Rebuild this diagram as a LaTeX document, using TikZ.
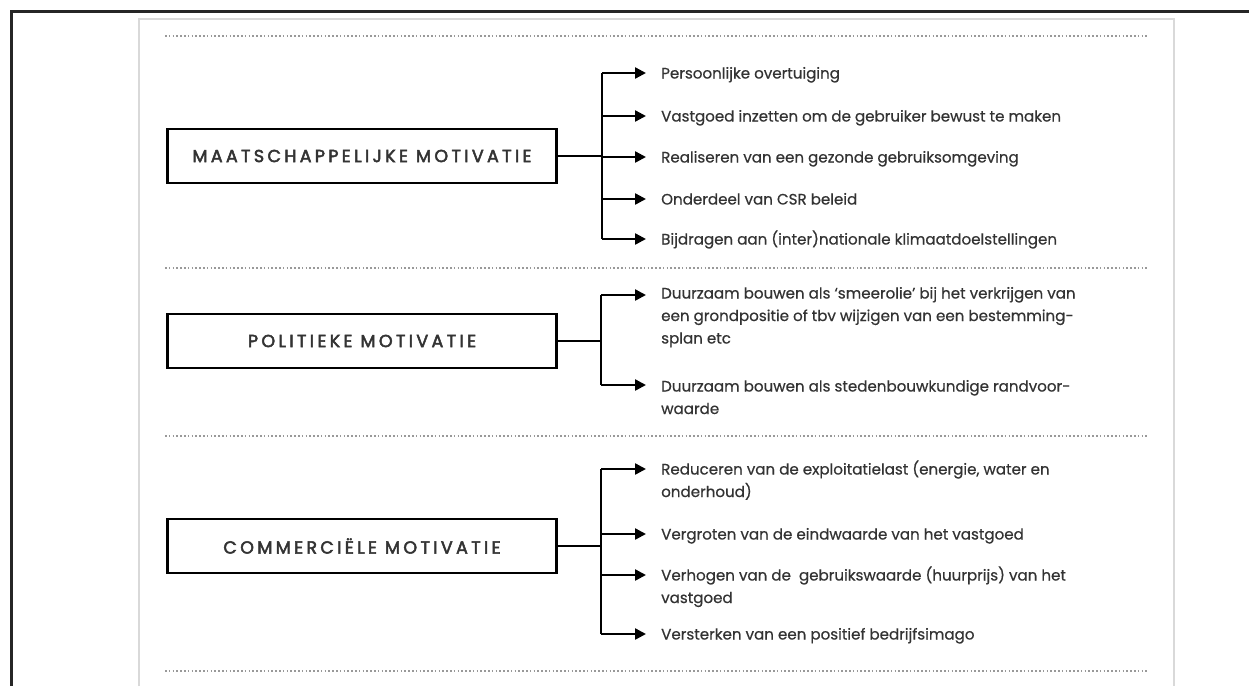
\documentclass[tikz,border=0pt]{standalone}
\usepackage{fontspec}
\setmainfont[FakeBold=0.6]{Poppins}
\newfontfamily\boxfont[LetterSpace=19,FakeBold=2.8]{Poppins}
\usetikzlibrary{arrows.meta}
\definecolor{txt}{HTML}{333333}
\definecolor{frameg}{HTML}{D9D9D9}
\newcommand{\lines}[1]{\begin{tabular}[t]{@{}l@{}}#1\end{tabular}}
\tikzset{
  motbox/.style={draw=black, line width=2.6pt, minimum width=389pt, minimum height=54pt, inner sep=0pt,
    font=\boxfont\fontsize{17.5}{19}\selectfont, text=txt},
  item/.style={anchor=base west, inner sep=0pt, text=txt,
    font=\fontsize{15.1}{22.5}\selectfont},
  conn/.style={line width=2.4pt, black},
  arr/.style={conn, -{Triangle[length=11pt,width=11pt]}},
  sep/.style={line width=1.8pt, gray!80, dash pattern=on 1.6pt off 2.2pt},
}
\begin{document}
\begin{tikzpicture}[x=1pt,y=-1pt]
\useasboundingbox (0,0) rectangle (1249,686);
% frames
\draw[line width=3pt, black!85] (11,686) -- (11,11.5) -- (1249,11.5);
\draw[line width=2pt, frameg] (139,686) -- (139,19) -- (1174,19) -- (1174,686);
% separators
\foreach \yy in {36,268,436,671} \draw[sep] (165,\yy) -- (1149,\yy);

% ---------- group 1
\node[motbox] (m) at (362,156) {MAATSCHAPPELIJKE MOTIVATIE};
\foreach \i/\yy in {1/73,2/116,3/157,4/199,5/239}{
  \coordinate (mb\i) at (602,\yy);
  \coordinate (ma\i) at (646,\yy);
  \draw[arr] (mb\i) -- (ma\i);
}
\draw[conn] (mb1) -- (mb5);
\draw[conn] (m.east) -- (m.east -| mb1);
\node[item] (m1) at (661,78.5) {\lines{Persoonlijke overtuiging}};
\node[item] (m2) at (661,121.5) {\lines{Vastgoed inzetten om de gebruiker bewust te maken}};
\node[item] (m3) at (661,162.5) {\lines{Realiseren van een gezonde gebruiksomgeving}};
\node[item] (m4) at (661,204.5) {\lines{Onderdeel van CSR beleid}};
\node[item] (m5) at (661,244.5) {\lines{Bijdragen aan (inter)nationale klimaatdoelstellingen}};

% ---------- group 2
\node[motbox] (p) at (362,341) {POLITIEKE MOTIVATIE};
\foreach \i/\yy in {1/295,2/385}{
  \coordinate (pb\i) at (601,\yy);
  \coordinate (pa\i) at (646,\yy);
  \draw[arr] (pb\i) -- (pa\i);
}
\draw[conn] (pb1) -- (pb2);
\draw[conn] (p.east) -- (p.east -| pb1);
\node[item] (p1) at (661,298.5) {\lines{Duurzaam bouwen als ‘smeerolie’ bij het verkrijgen van\\een grondpositie of tbv wijzigen van een bestemming-\\splan etc}};
\node[item] (p2) at (661,391.5) {\lines{Duurzaam bouwen als stedenbouwkundige randvoor-\\waarde}};

% ---------- group 3
\node[motbox] (c) at (362,546) {COMMERCIËLE MOTIVATIE};
\foreach \i/\yy in {1/469,2/534,3/575,4/634}{
  \coordinate (cb\i) at (601,\yy);
  \coordinate (ca\i) at (646,\yy);
  \draw[arr] (cb\i) -- (ca\i);
}
\draw[conn] (cb1) -- (cb4);
\draw[conn] (c.east) -- (c.east -| cb1);
\node[item] (c1) at (661,474.5) {\lines{Reduceren van de exploitatielast (energie, water en\\onderhoud)}};
\node[item] (c2) at (661,539.5) {\lines{Vergroten van de eindwaarde van het vastgoed}};
\node[item] (c3) at (661,580.5) {\lines{Verhogen van de\ \ gebruikswaarde (huurprijs) van het\\vastgoed}};
\node[item] (c4) at (661,639.5) {\lines{Versterken van een positief bedrijfsimago}};
\end{tikzpicture}
\end{document}
